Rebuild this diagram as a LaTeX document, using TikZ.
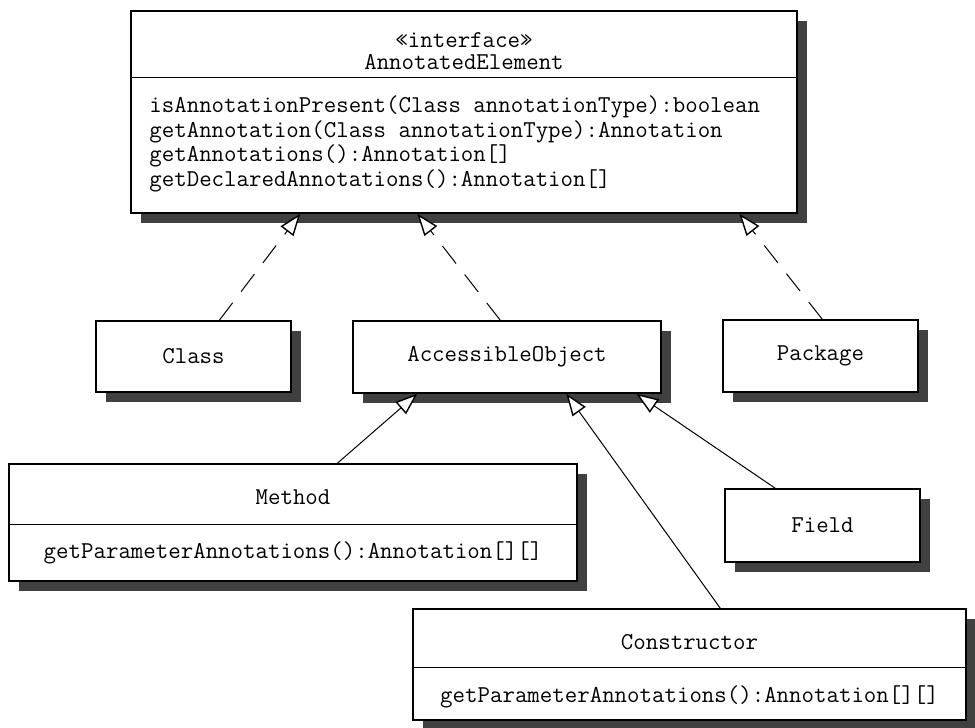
\documentclass[tikz,border=0pt]{standalone}
\usetikzlibrary{calc}
\usetikzlibrary{shadows}
\usetikzlibrary{arrows.meta}

\begin{document}
\begin{tikzpicture}[x=0.5pt,y=-0.5pt,inner sep=0pt,
  font=\ttfamily\fontsize{12.1}{12.25}\selectfont]
\def\u{0.5pt}
\tikzset{
  cls/.style={draw, fill=white, line width=0.7pt,
    drop shadow={shadow xshift=10*\u, shadow yshift=-10*\u, fill=black!75, opacity=1}},
  realize/.style={line width=0.5pt, dash pattern=on 11pt off 7pt,
    -{Triangle[open, fill=white, length=11pt, width=8pt, line width=0.7pt]}},
  extend/.style={line width=0.5pt,
    -{Triangle[open, fill=white, length=11pt, width=8pt, line width=0.7pt]}}
}
\useasboundingbox (0,0) rectangle (975,728);

% boxes
\node[cls, minimum width=666*\u, minimum height=202*\u] (annot) at (464, 112) {};
\node[cls, minimum width=195*\u, minimum height=71*\u] (class) at (193.5, 356.5) {};
\node[cls, minimum width=308*\u, minimum height=72*\u] (access) at (507, 357) {};
\node[cls, minimum width=195*\u, minimum height=72*\u] (package) at (820.5, 356) {};
\node[cls, minimum width=568*\u, minimum height=117*\u] (method) at (293, 522.5) {};
\node[cls, minimum width=195*\u, minimum height=73*\u] (field) at (822.5, 525.5) {};
\node[cls, minimum width=553*\u, minimum height=111*\u] (ctor) at (689.5, 664.5) {};

% compartments
\draw[line width=0.7pt] ($(annot.north west)+(0,67)$) -- ($(annot.north east)+(0,67)$);
\draw[line width=0.7pt] ($(method.north west)+(0,61)$) -- ($(method.north east)+(0,61)$);
\draw[line width=0.7pt] ($(ctor.north west)+(0,59)$) -- ($(ctor.north east)+(0,59)$);

% texts
\node (annotst) at (464, 40) {«interface»};
\node (annotname) at (464, 62) {AnnotatedElement};
\node[anchor=west, align=left] (annotops) at (149, 144) {isAnnotationPresent(Class annotationType):boolean\\
getAnnotation(Class annotationType):Annotation\\
getAnnotations():Annotation[]\\
getDeclaredAnnotations():Annotation[]};
\node (classname) at (class) {Class};
\node (accessname) at (access) {AccessibleObject};
\node (packagename) at (package) {Package};
\node (fieldname) at (field) {Field};
\node (methodname) at (293, 497) {Method};
\node (methodops) at (293, 553) {getParameterAnnotations():Annotation[][]};
\node (ctorname) at (689.5, 642) {Constructor};
\node (ctorops) at (689.5, 697) {getParameterAnnotations():Annotation[][]};

% realizations
\draw[realize] ($(class.north west)+(124,0)$) -- ($(annot.south west)+(170,0)$);
\draw[realize] ($(access.north west)+(148,0)$) -- ($(annot.south west)+(287,0)$);
\draw[realize] ($(package.north west)+(100,0)$) -- ($(annot.south west)+(609,0)$);

% generalizations
\draw[extend] ($(method.north west)+(329,0)$) -- ($(access.south west)+(65,0)$);
\draw[extend] ($(ctor.north west)+(308,0)$) -- ($(access.south west)+(214,0)$);
\draw[extend] ($(field.north west)+(51,0)$) -- ($(access.south west)+(284,0)$);
\end{tikzpicture}
\end{document}
